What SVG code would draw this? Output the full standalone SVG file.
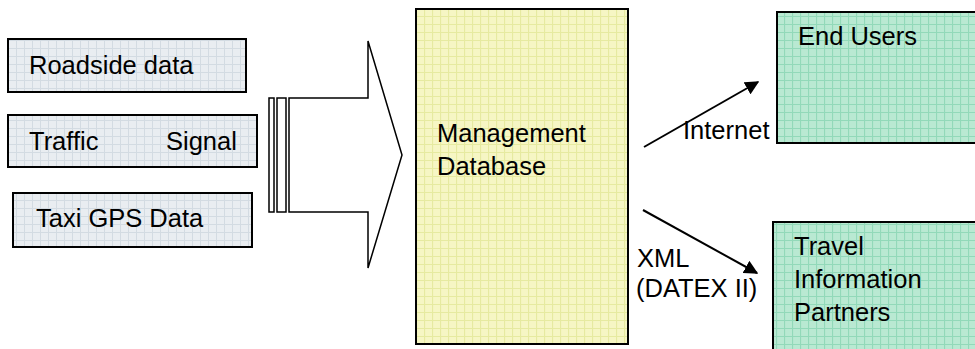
<svg xmlns="http://www.w3.org/2000/svg" width="975" height="349" viewBox="0 0 975 349">
  <defs>
    <!-- fine grid fills for the boxes -->
    <pattern id="gridGray" width="8" height="8" patternUnits="userSpaceOnUse">
      <rect width="8" height="8" fill="#e9edf1"/>
      <path d="M0 0.5H8M0.5 0V8" stroke="#d3dbe2" stroke-width="1"/>
    </pattern>
    <pattern id="gridYellow" width="8" height="8" patternUnits="userSpaceOnUse">
      <rect width="8" height="8" fill="#f6f6c4"/>
      <path d="M0 0.5H8M0.5 0V8" stroke="#e6eaa0" stroke-width="1.2"/>
    </pattern>
    <pattern id="gridGreen" width="8" height="8" patternUnits="userSpaceOnUse">
      <rect width="8" height="8" fill="#b9e9d2"/>
      <path d="M0 0.5H8M0.5 0V8" stroke="#92d9b9" stroke-width="1.2"/>
    </pattern>
    <marker id="head" viewBox="0 0 10 10" refX="9" refY="5" markerWidth="7" markerHeight="7" orient="auto" markerUnits="strokeWidth">
      <path d="M0 0L10 5L0 10z" fill="#000"/>
    </marker>
  </defs>
  <style>
    text { font-family: "Liberation Sans", Arial, sans-serif; font-size: 25.5px; fill: #000; }
    .box { stroke: #000; stroke-width: 2; }
    .src { fill: url(#gridGray); }
    .db { fill: url(#gridYellow); }
    .out { fill: url(#gridGreen); }
    .link { stroke: #000; stroke-width: 2; fill: none; marker-end: url(#head); }
  </style>

  <rect width="975" height="349" fill="#fff"/>

  <g id="roadside">
    <rect class="box src" x="8" y="39" width="238" height="53"/>
    <text x="29" y="74">Roadside data</text>
  </g>
  <g id="traffic-signal">
    <rect class="box src" x="8" y="115" width="249" height="52"/>
    <text x="29" y="150">Traffic</text>
    <text x="166" y="150">Signal</text>
  </g>
  <g id="taxi-gps">
    <rect class="box src" x="13" y="193" width="239" height="54"/>
    <text x="36" y="227">Taxi GPS Data</text>
  </g>

  <g id="feed-arrow" fill="#fff" stroke="#000" stroke-width="1.5">
    <rect x="269" y="98" width="5" height="114"/>
    <rect x="277" y="98" width="9" height="114"/>
    <path d="M289 98H368V41L402 155L368 268V212H289Z"/>
  </g>

  <g id="database">
    <rect class="box db" x="416" y="9" width="212" height="335"/>
    <text x="437" y="142">Management</text>
    <text x="437" y="175">Database</text>
  </g>

  <g id="end-users">
    <rect class="box out" x="777" y="12" width="210" height="131"/>
    <text x="798" y="45">End Users</text>
  </g>
  <g id="partners">
    <rect class="box out" x="773" y="222" width="214" height="140"/>
    <text x="794" y="255">Travel</text>
    <text x="794" y="288">Information</text>
    <text x="794" y="321">Partners</text>
  </g>

  <g id="connectors">
    <line class="link" x1="644" y1="147" x2="758" y2="82"/>
    <text x="683" y="139">Internet</text>
    <line class="link" x1="643" y1="210" x2="757" y2="273"/>
    <text x="637" y="267">XML</text>
    <text x="636" y="297">(DATEX II)</text>
  </g>
</svg>
